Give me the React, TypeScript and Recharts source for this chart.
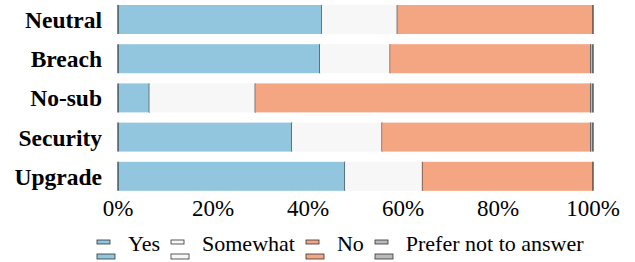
import { BarChart, Bar, XAxis, YAxis } from 'recharts'

// share of answers (%), one entry per category
const categories = ['Neutral', 'Breach', 'No-sub', 'Security', 'Upgrade']
const yesValues = [42.9, 42.5, 6.6, 36.6, 47.8]
const somewhatValues = [15.9, 14.8, 22.3, 19.0, 16.3]
const noValues = [41.2, 42.2, 70.6, 43.9, 35.9]
const preferValues = [0, 0.5, 0.5, 0.5, 0]
const xTicks = [0, 20, 40, 60, 80, 100]

const SERIES = [
  { key: 'yes', name: 'Yes', color: '#92c5de' },
  { key: 'somewhat', name: 'Somewhat', color: '#f7f7f7' },
  { key: 'no', name: 'No', color: '#f4a582' },
  { key: 'prefer', name: 'Prefer not to answer', color: '#bababa' },
]

const data = categories.map((c, i) => ({
  name: c,
  yes: yesValues[i],
  somewhat: somewhatValues[i],
  no: noValues[i],
  prefer: preferValues[i],
}))

const FONT = 'Liberation Serif'

// segment with a thin dark edge on its right side (and left for the first one)
function Segment(props: any) {
  const { x, y, width, height, fill, first } = props
  if (!width || width <= 0) return null
  return (
    <g>
      <rect x={x} y={y} width={width} height={height} fill={fill} />
      <line x1={x + width} x2={x + width} y1={y} y2={y + height} stroke="#333" strokeWidth={1.2} />
      {first && <line x1={x} x2={x} y1={y} y2={y + height} stroke="#333" strokeWidth={1.2} />}
    </g>
  )
}

function LegendIcon({ color }: { color: string }) {
  return (
    <svg width={20} height={21} style={{ marginTop: 6, marginRight: 12, flexShrink: 0 }}>
      <rect x={1} y={1} width={13} height={4} fill={color} stroke="#333" strokeWidth={0.8} />
      <rect x={1} y={15} width={18} height={5} fill={color} stroke="#333" strokeWidth={0.8} />
    </svg>
  )
}

export default function App() {
  return (
    <div
      style={{
        position: 'absolute',
        left: 0,
        top: 0,
        width: 635,
        height: 262,
        background: '#fff',
        fontFamily: FONT,
      }}
    >
      <BarChart
        width={635}
        height={262}
        data={data}
        layout="vertical"
        barSize={29}
        style={{ fontFamily: FONT }}
        margin={{ top: 0, right: 42, left: 0, bottom: 36 }}
      >
        <XAxis
          type="number"
          domain={[0, 100]}
          ticks={xTicks}
          tickFormatter={(v) => `${v}%`}
          axisLine={false}
          tickLine={false}
          tick={{ fill: '#000', fontSize: 23, fontFamily: FONT }}
          tickMargin={-2}
          interval={0}
        />
        <YAxis
          type="category"
          dataKey="name"
          width={118}
          axisLine={false}
          tickLine={false}
          tickMargin={10}
          tick={{ fill: '#000', fontSize: 23.5, fontFamily: FONT, fontWeight: 'bold' }}
        />
        {SERIES.map((s, i) => (
          <Bar
            key={s.key}
            dataKey={s.key}
            name={s.name}
            stackId="a"
            fill={s.color}
            isAnimationActive={false}
            shape={(p: any) => <Segment {...p} first={i === 0} />}
          />
        ))}
      </BarChart>
      <div
        style={{
          position: 'absolute',
          left: 96,
          top: 233,
          display: 'flex',
          alignItems: 'flex-start',
          fontFamily: FONT,
          fontSize: 22,
          lineHeight: '22px',
          color: '#000',
          whiteSpace: 'nowrap',
        }}
      >
        {SERIES.map((s) => (
          <div key={s.key} style={{ display: 'flex', alignItems: 'flex-start', marginRight: 10 }}>
            <LegendIcon color={s.color} />
            <span>{s.name}</span>
          </div>
        ))}
      </div>
    </div>
  )
}
